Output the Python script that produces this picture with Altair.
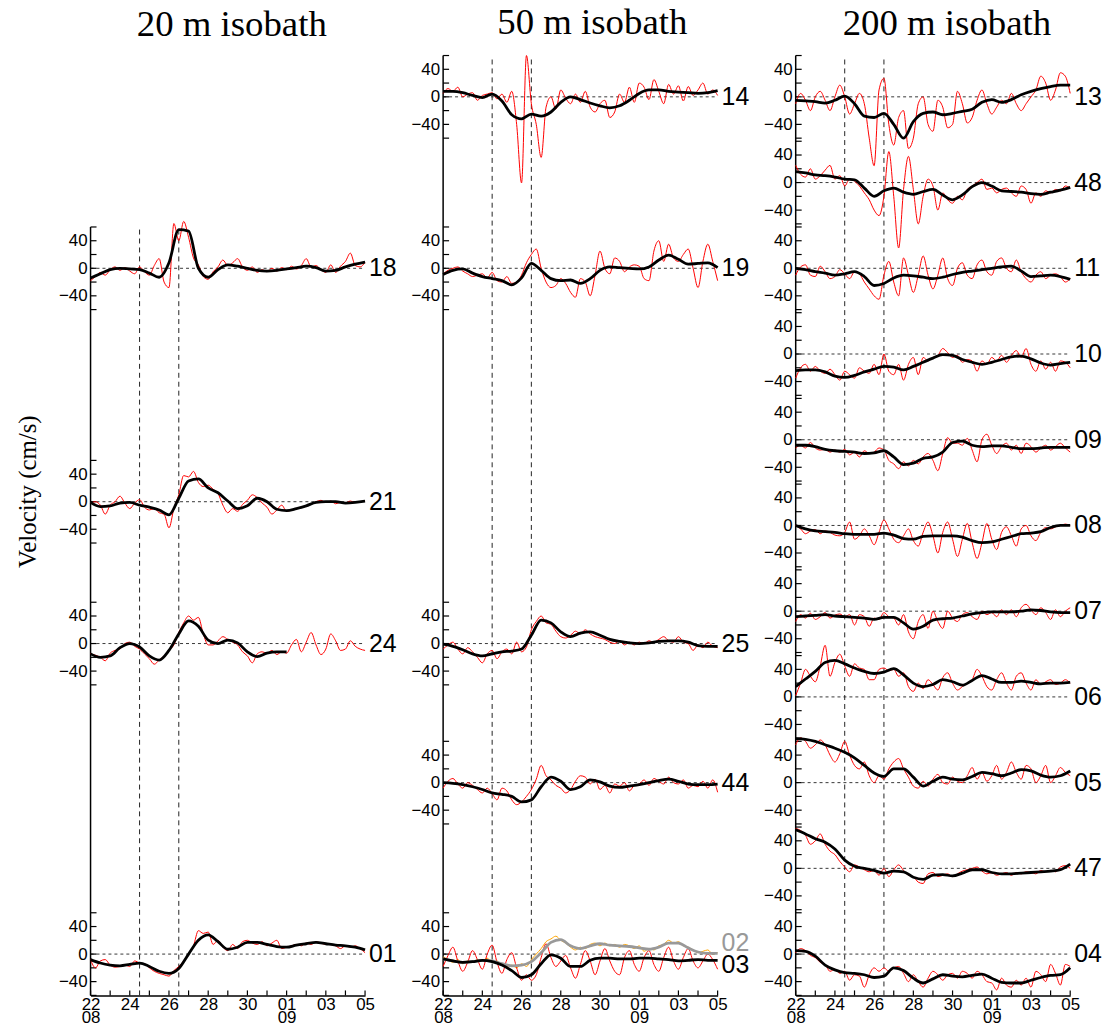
import altair as alt
import pandas as pd

# ---------------- time grids (days after 22 Aug 00:00) ----------------
T_RED = [i / 4 for i in range(57)]
T_BLK = [i / 2 for i in range(29)]
T_BLK24 = [i / 2 for i in range(21)]

# ---------------- 20 m isobath ----------------
R18 = [-18, -12, -6, -10, -2, 2, -3, 1,
       -4, -8, 2, -5, -10, 4, 14, -20,
       -28, 65, 40, 68, 45, 15, 5, -12,
       -16, -5, 2, 12, 4, 8, 14, 2,
       -3, 2, -6, -2, -5, 0, -4, 1,
       -2, 3, -1, 4, 14, 2, 4, -2,
       -6, 5, -6, 3, 10, 22, 4, 2,
       9]
B18 = [-14, -8, -2, 0,
       -1, -2, -7, -13,
       8, 56, 54, 0,
       -13, -2, 5, 3,
       0, -3, -4, -3,
       -1, 1, 3, 1,
       -4, -3, 2, 6,
       9]
R21 = [-2, 0, -5, -18, -5, 0, 8, -2,
       -10, -2, 3, -8, -12, -10, -16, -18,
       -38, -10, 10, 38, 36, 44, 28, 22,
       24, 18, 12, -5, -16, -10, -14, -4,
       2, 10, 6, -2, -8, -18, -12, -5,
       -14, -12, -10, -8, -6, -3, 0, 2,
       -1, 1, -3, -1, -2, 1, -1, 0,
       1]
B21 = [-1, -7, -6, -2,
       -1, -5, -8, -12,
       -19, 5, 30, 33,
       20, 13, 1, -10,
       -6, 5, 0, -11,
       -13, -10, -6, -1,
       0, 0, -2, -1,
       1]
R24 = [-15, -17, -20, -25, -14, -10, -8, 0,
       2, -4, -8, -15, -22, -30, -24, -18,
       -10, -2, 16, 30, 40, 34, 38, 14,
       -2, -2, 4, 10, 6, 2, -2, -12,
       -18, -28, -15, -12, -14, -10, -16, -12,
       -14, -2, 6, -12, 2, 16, -2, -16,
       -8, 14, 4, -10, -8, 4, -4, -8,
       -10]
B24 = [-15, -20, -18, -6,
       0, -5, -18, -24,
       -10, 14, 33, 25,
       5, 0, 5, 1,
       -12, -19, -14, -12,
       -12]
R01 = [-8, -20, -10, -8, -16, -19, -18, -16,
       -18, -10, -13, -14, -20, -25, -28, -30,
       -32, -24, -18, -10, 0, 12, 34, 30,
       32, 14, 20, 10, 5, 14, 8, 18,
       20, 16, 14, 18, 12, 16, 20, 8,
       10, 12, 14, 12, 16, 14, 18, 16,
       14, 14, 12, 8, 12, 10, 12, 8,
       2]
B01 = [-8, -13, -16, -17,
       -15, -13, -18, -25,
       -28, -21, 0, 20,
       28, 18, 7, 10,
       17, 17, 14, 11,
       10, 13, 15, 17,
       15, 13, 12, 10,
       6]

# ---------------- 50 m isobath ----------------
R14 = [5, 12, 8, 14, 0, 4, 6, -5,
       2, 4, 6, -3, 4, -8, 8, -40,
       -125, 60, -10, -40, -88, -15, 0, -18,
       10, -2, -10, 4, -8, 8, -15, -22,
       -10, -5, -30, -22, 4, -8, 14, -8,
       20, 14, -4, 25, 8, -10, 18, 4,
       16, -6, 15, 2, 10, 20, 4, 10,
       2]
B14 = [8, 8, 6, 2,
       -1, 4, -6, -26,
       -32, -25, -28, -22,
       -8, 0, -4, -9,
       -13, -16, -13, -5,
       5, 10, 10, 8,
       7, 6, 5, 6,
       9]
R19 = [-8, -3, 0, 2, -4, -8, -12, -10,
       -8, -14, -6, -18, -20, -12, -22, -20,
       -10, 8, 20, 28, 0, -20, -28, -25,
       -15, -22, -35, -42, -15, -20, -40, -10,
       25, 0, -8, 15, 10, -5, 2, 5,
       3, -15, -18, 25, 40, 10, 35, 15,
       10, 20, 28, 0, -28, 10, 35, 10,
       -18]
B19 = [-9, -3, -1, -7,
       -12, -15, -18, -24,
       -14, 7, -3, -15,
       -18, -17, -22, -15,
       -3, 2, 1, 0,
       -1, 2, 12, 19,
       13, 6, 7, 8,
       1]
R25 = [-8, -2, 2, -8, -15, -6, -12, -20,
       -28, -15, -10, -22, -12, -8, -15, 2,
       -12, -5, 20, 32, 40, 30, 28, 18,
       10, 8, 12, 18, 14, 20, 14, 10,
       8, 6, 2, 0, 4, -2, 2, -2,
       2, 0, 4, 2, 6, 10, 4, 2,
       10, 2, 0, -10, -2, -6, 2, -4,
       -6]
B25 = [-1, -4, -9, -15,
       -18, -15, -12, -11,
       -8, 12, 34, 30,
       17, 10, 15, 17,
       12, 6, 3, 1,
       0, 1, 3, 4,
       4, 2, -3, -4,
       -4]
R44 = [-8, 2, 6, -2, -8, 0, -4, -10,
       -15, -8, -16, -25, -8, -12, -25, -32,
       -28, -20, -10, 5, 25, 10, 4, -4,
       -8, -15, -10, 2, 10, 8, -2, 5,
       -10, -4, -15, -2, -5, 0, -12, -4,
       -2, 4, -4, 6, 2, -2, 8, 0,
       -2, 4, -8, -4, -6, 2, -8, 4,
       -14]
B44 = [0, -1, -3, -6,
       -10, -15, -17, -20,
       -28, -25, -6, 8,
       2, -10, -6, 4,
       1, -5, -7, -5,
       -3, 0, 3, 5,
       2, -2, -3, -3,
       -2]
O02 = [-4, -8, -12, -8, -14, -10, -12, -8,
       -10, -6, -12, -10, -16, -18, -16, -20,
       -14, -18, -8, 0, 8, 18, 22, 26,
       20, 16, 10, 6, 10, 8, 14, 16,
       12, 16, 12, 14, 10, 14, 12, 8,
       12, 4, 8, 6, 12, 14, 20, 16,
       18, 12, 10, 6, 2, 4, 6, 0,
       2]
G02 = [-7, -10, -12, -11,
       -9, -10, -14, -17,
       -16, -11, 2, 17,
       21, 12, 8, 12,
       15, 13, 12, 11,
       9, 7, 10, 16,
       16, 9, 3, 1,
       1]
R03 = [-18, -2, 10, -10, -25, -12, 5, -8,
       -22, 0, 13, -12, -28, -8, 2, -20,
       -38, -30, -38, -30, -5, 15, -5, -18,
       -10, -2, -20, -35, -15, 5, -10, -30,
       -10, 8, -10, -25, -30, -5, 5, -15,
       -25, -5, 5, -15, -25, -5, 10, -10,
       -22, -5, 8, -10, -20, -10, 0, -8,
       -22]
B03 = [-7, -10, -12, -11,
       -9, -11, -16, -24,
       -34, -30, -14, -1,
       -6, -18, -18, -9,
       -6, -6, -7, -7,
       -6, -6, -7, -8,
       -10, -9, -8, -9,
       -9]

# ---------------- 200 m isobath ----------------
R13 = [-10, 5, -5, -20, 0, 8, -5, -20,
       0, 17, 0, -25, -10, 5, -10, -60,
       -100, 10, 27, -40, -70, -30, -20, -75,
       -60, -10, 0, -40, -50, -5, -15, -45,
       -40, 8, -10, -38, -30, -5, 10, -10,
       -25, -15, -5, -10, 5, -10, -20, -10,
       0, 10, 30, 20, -5, 10, 35, 30,
       5]
B13 = [-5, -6, -7, -9,
       -5, 1, -10, -28,
       -30, -24, -40, -60,
       -36, -24, -22, -26,
       -24, -21, -18, -8,
       -4, -8, -4, 3,
       8, 12, 15, 17,
       17]
R48 = [25, 12, 8, 20, 5, 10, 18, 25,
       5, 10, -5, 5, 2, -5, -15, -25,
       -40, -48, -20, 45, -20, -95, -10, 38,
       -10, -60, -20, 5, -5, -40, -15, -25,
       -30, -20, -25, -10, -5, 0, 5, -10,
       -8, -15, -10, -8, -15, -20, -5, -10,
       -30, -15, -20, -12, -15, -10, -12, -5,
       -8]
B48 = [16, 14, 11, 10,
       8, 5, 4, -8,
       -20, -12, -8, -14,
       -17, -13, -10, -18,
       -25, -18, -6, 0,
       -5, -12, -13, -14,
       -16, -17, -14, -11,
       -7]
R11 = [-10, 2, 5, -10, -12, 3, -5, -15,
       -12, -2, -8, -15, -5, -8, -20, -30,
       -40, -45, -10, 10, -20, -40, 15, -10,
       -35, -10, 18, -10, -30, -10, 15, -15,
       -25, 0, 8, -10, -15, 5, 12, -5,
       -10, 10, 15, 0, -5, 12, -5, -15,
       -20, -10, -5, -15, -10, -8, -12, -20,
       -15]
B11 = [0, -2, -5, -7,
       -10, -8, -5, -12,
       -25, -22, -14, -10,
       -11, -13, -15, -13,
       -9, -6, -4, -2,
       0, 2, 3, -4,
       -12, -11, -10, -12,
       -16]
R10 = [-35, -20, -15, -25, -18, -25, -28, -22,
       -30, -38, -25, -30, -35, -20, -25, -28,
       -15, -30, 0, -25, -30, -15, -38, -15,
       -5, -30, -5, -10, -5, -2, 8, 2,
       -5, -2, -12, -8, -10, -25, -10, -15,
       -5, -10, -2, -12, -2, 5, -5, 8,
       -15, -25, -10, -22, -12, -25, -10, -12,
       -20]
B10 = [-24, -23, -23, -26,
       -32, -34, -31, -26,
       -22, -18, -19, -23,
       -18, -12, -6, -1,
       -2, -8, -12, -15,
       -12, -8, -4, -3,
       -7, -13, -16, -14,
       -12]
R09 = [-12, -8, -12, -4, -12, -15, -14, -18,
       -15, -18, -14, -22, -18, -25, -16, -20,
       -18, -12, -15, -30, -35, -42, -32, -38,
       -30, -35, -25, -20, -30, -45, -20, 3,
       -5, -5, -8, 2, -15, -32, 0, 8,
       -8, -20, -10, -5, -15, -8, -20, -5,
       -10, -18, -12, -8, -15, -10, -5, -12,
       -18]
B09 = [-8, -8, -10, -14,
       -16, -17, -18, -20,
       -19, -16, -25, -36,
       -34, -27, -25, -18,
       -4, -2, -8, -10,
       -9, -9, -11, -13,
       -13, -12, -11, -11,
       -11]
R08 = [0, -5, -12, -8, -6, -12, -8, -10,
       -14, -15, -10, 5, -20, -15, -5, -15,
       -28, -10, 8, -5, -20, -25, -15, -5,
       -22, -30, -10, 5, -15, -40, -10, 5,
       -20, -45, -20, 3, -25, -48, -25, 3,
       -20, -35, -10, -2, -15, -30, -5, 0,
       -15, -22, -10, -3, -5, -2, 0, 2,
       0]
B08 = [0, -5, -8, -9,
       -10, -12, -13, -13,
       -13, -11, -14, -19,
       -20, -16, -15, -15,
       -15, -17, -22, -25,
       -24, -20, -16, -12,
       -11, -9, -3, 0,
       0]
R07 = [-15, -5, -10, -3, -12, -8, -2, -10,
       -6, -4, -8, -5, -20, -5, -8, -22,
       -10, -12, -2, -8, -10, -20, -5, -30,
       -40, -15, -5, -25, 0, -15, -25, 0,
       -10, -15, -5, -2, -8, -12, 0, -5,
       -2, -8, 2, -5, 2, -8, 5, 10,
       2, -5, 5, -2, -12, 2, -8, 0,
       5]
B07 = [-8, -7, -6, -5,
       -7, -8, -9, -10,
       -12, -9, -9, -17,
       -26, -22, -13, -11,
       -10, -7, -4, -2,
       -1, -1, -1, 0,
       2, 1, -1, -2,
       -2]
R06 = [2, 20, 40, 30, 22, 45, 75, 30,
       50, 62, 45, 30, 48, 42, 40, 25,
       25, 40, 42, 38, 40, 30, 35, 15,
       8, 20, 12, 25, 18, 10, 28, 35,
       20, 10, 15, 20, 25, 40, 30, 15,
       10, 25, 35, 20, 10, 30, 35, 20,
       10, 25, 18, 22, 25, 18, 20, 25,
       20]
B06 = [15, 26, 37, 50,
       53, 48, 42, 37,
       34, 36, 41, 32,
       20, 15, 18, 25,
       22, 17, 24, 31,
       26, 21, 21, 23,
       21, 19, 20, 20,
       21]
R05 = [55, 65, 60, 50, 55, 62, 55, 40,
       30, 42, 60, 40, 25, 20, 30, 10,
       0, 10, 5, 20, 30, 35, 20, 8,
       -5, -8, 2, -5, 5, 12, 0, -2,
       8, 2, 0, 10, 22, 5, 15, 2,
       10, 25, 5, 15, 30, 15, 5, 25,
       20, 0, 10, 25, 0, 10, 22, 15,
       10]
B05 = [64, 63, 60, 55,
       50, 44, 36, 25,
       14, 9, 20, 20,
       8, -5, 2, 8,
       5, 4, 9, 15,
       13, 10, 14, 19,
       17, 11, 8, 10,
       17]
R47 = [58, 55, 48, 35, 40, 50, 35, 25,
       20, 10, 2, -5, 5, 2, -2, -5,
       -3, -10, 0, -12, -2, 5, -3, -10,
       -12, -20, -22, -8, -6, -12, -10, -8,
       -12, -8, -4, -2, 0, 2, -4, -8,
       -6, -10, -8, -6, -10, -6, -8, -5,
       -6, -8, -3, -5, -3, -5, 2, 4,
       0]
B47 = [56, 50, 43, 38,
       28, 12, 3, 0,
       -3, -7, -4, -5,
       -13, -16, -10, -9,
       -11, -7, -2, -2,
       -6, -8, -8, -7,
       -6, -5, -4, -2,
       6]
R04 = [2, 8, 5, -2, -5, -12, -15, -25,
       -22, -28, -25, -38, -30, -32, -48, -30,
       -20, -25, -20, -25, -20, -18, -28, -40,
       -30, -40, -48, -35, -25, -30, -38, -30,
       -28, -35, -25, -28, -35, -25, -30, -40,
       -42, -52, -35, -45, -48, -38, -45, -35,
       -48, -25, -30, -40, -15, -28, -45, -15,
       -18]
B04 = [5, 4, -3, -16,
       -23, -27, -28, -30,
       -34, -32, -20, -24,
       -35, -42, -36, -30,
       -32, -33, -31, -29,
       -35, -41, -42, -42,
       -38, -34, -31, -30,
       -20]

# ---------------- panel layout (stacking offsets, cm/s units) ----------------
COL1_NAMES = ["18", "21", "24", "01"]
COL1_ZERO = [1056, 717, 511, 60]
COL2_NAMES = ["14", "19", "25", "44", "03"]
COL2_ZERO = [1305, 1056, 511, 309, 60]
COL3_NAMES = ["13", "48", "11", "10", "09", "08", "07", "06", "05", "47", "04"]
COL3_ZERO = [1305, 1180.5, 1056, 931.5, 807, 682.5, 558, 433.5, 309, 184.5, 60]

TITLES = ["20 m isobath", "50 m isobath", "200 m isobath"]
Y_TITLE = "Velocity (cm/s)"
X_TICK_DAYS = [0, 2, 4, 6, 8, 10, 12, 14]
X_TICK_LABELS = [["22", "08"], ["24"], ["26"], ["28"], ["30"], ["01", "09"], ["03"], ["05"]]
X_MINOR_DAYS = list(range(15))
EVENT_DAYS = [2.5, 4.5]
Y_LABEL_LEVELS = [-40, 0, 40]
Y_TICK_LEVELS = [-60, -40, -20, 0, 20, 40, 60]
DAY_START, DAY_END = 0, 14

RED = {"18": R18, "21": R21, "24": R24, "01": R01,
       "14": R14, "19": R19, "25": R25, "44": R44, "03": R03,
       "13": R13, "48": R48, "11": R11, "10": R10, "09": R09, "08": R08,
       "07": R07, "06": R06, "05": R05, "47": R47, "04": R04}
BLK = {"18": B18, "21": B21, "01": B01,
       "14": B14, "19": B19, "25": B25, "44": B44, "03": B03,
       "13": B13, "48": B48, "11": B11, "10": B10, "09": B09, "08": B08,
       "07": B07, "06": B06, "05": B05, "47": B47, "04": B04}

W, H = 276, 945
YMAX = 1365
SANS = "Liberation Sans"
SERIF = "Liberation Serif"
MINUS = "\u2212"

xscale = alt.Scale(domain=[DAY_START, DAY_END], nice=False, zero=False)
yscale = alt.Scale(domain=[0, YMAX], nice=False, zero=False)

x_expr = ("[" + ",".join("[" + ",".join("'%s'" % s for s in lab) + "]" for lab in X_TICK_LABELS)
          + "][indexof([" + ",".join(str(d) for d in X_TICK_DAYS) + "], datum.value)]")
xaxis = alt.Axis(values=X_TICK_DAYS, labelExpr=x_expr, domain=True, domainColor="black",
                 domainWidth=1.5, ticks=False, grid=False, labelPadding=1, labelFontSize=17,
                 labelFont=SANS, labelColor="black", labelLineHeight=13, labelFlush=False,
                 labelOverlap=False, labelBaseline="top", title=None)


def make_yaxis(zeros, with_title):
    vals = [float(z + k) for z in zeros for k in Y_LABEL_LEVELS]
    labs = [(MINUS + str(-k)) if k < 0 else str(k) for z in zeros for k in Y_LABEL_LEVELS]
    expr = ("[" + ",".join("'%s'" % l for l in labs) + "][indexof(["
            + ",".join(repr(v) for v in vals) + "], datum.value)]")
    kw = dict(values=vals, labelExpr=expr, domain=False, ticks=False, grid=False,
              labelPadding=3.5, labelFontSize=17, labelFont=SANS, labelColor="black",
              labelOverlap=False, labelFlush=False)
    if with_title:
        kw.update(title=Y_TITLE, titleFont=SERIF, titleFontSize=25, titleFontWeight="normal",
                  titleColor="black", titleAngle=270, titleX=-55, titleY=438,
                  titleAlign="center", titleBaseline="alphabetic")
    else:
        kw.update(title=None)
    return alt.Axis(**kw)


def series_df(names, zeros, src, grid):
    rows = []
    for n, z in zip(names, zeros):
        if n in src:
            for d, v in zip(grid, src[n]):
                rows.append({"name": n, "day": d, "y": z + v})
    return pd.DataFrame(rows)


def make_column(names, zeros, top, title, title_dx, with_title, extra_thin=None,
                extra_thick=None, special_labels=None):
    yaxis = make_yaxis(zeros, with_title)

    def X(field):
        return alt.X(field, type="quantitative", scale=xscale, axis=xaxis)

    def Y(field):
        return alt.Y(field, type="quantitative", scale=yscale, axis=yaxis)

    df_zero = pd.DataFrame({"name": names, "zero": zeros,
                            "d0": [DAY_START] * len(names), "d1": [DAY_END] * len(names)})
    df_ev = pd.DataFrame({"day": EVENT_DAYS, "bot": [0] * len(EVENT_DAYS),
                          "top": [top] * len(EVENT_DAYS)})
    df_top = pd.DataFrame({"bot": [0], "top": [top]})
    df_yt = pd.DataFrame({"v": [z + k for z in zeros for k in Y_TICK_LEVELS]})
    df_xt = pd.DataFrame({"day": X_MINOR_DAYS})

    layers = []
    layers.append(alt.Chart(df_zero).mark_rule(color="#222222", strokeWidth=0.9,
                                               strokeDash=[3, 3]).encode(
        x=X("d0"), x2="d1:Q", y=Y("zero")))
    layers.append(alt.Chart(df_ev).mark_rule(color="#222222", strokeWidth=1,
                                             strokeDash=[5, 4]).encode(
        x=X("day"), y=Y("bot"), y2="top:Q"))
    layers.append(alt.Chart(df_top).mark_rule(color="black", strokeWidth=1.5).encode(
        x=alt.value(0), y=Y("bot"), y2="top:Q"))
    layers.append(alt.Chart(df_yt).mark_rule(color="black", strokeWidth=1.2).encode(
        x=alt.value(0), x2=alt.value(6), y=Y("v")))
    layers.append(alt.Chart(df_xt).mark_rule(color="black", strokeWidth=1.2).encode(
        x=X("day"), y=alt.value(H), y2=alt.value(H - 5)))

    if extra_thin is not None:
        df, col = extra_thin
        layers.append(alt.Chart(df).mark_line(color=col, strokeWidth=1, interpolate="monotone").encode(
            x=X("day"), y=Y("y"), detail="name:N"))
    df_red = series_df(names, zeros, RED, T_RED)
    layers.append(alt.Chart(df_red).mark_line(color="#ff0000", strokeWidth=1,
                                              interpolate="monotone").encode(
        x=X("day"), y=Y("y"), detail="name:N"))
    if extra_thick is not None:
        df, col = extra_thick
        layers.append(alt.Chart(df).mark_line(color=col, strokeWidth=2.8, interpolate="monotone").encode(
            x=X("day"), y=Y("y"), detail="name:N"))
    df_blk = series_df(names, zeros, BLK, T_BLK)
    if "24" in names:
        df_blk = pd.concat([df_blk, series_df(["24"], [zeros[names.index("24")]], {"24": B24}, T_BLK24)])
    layers.append(alt.Chart(df_blk).mark_line(color="black", strokeWidth=2.8,
                                              interpolate="monotone").encode(
        x=X("day"), y=Y("y"), detail="name:N"))

    lab_names = [n for n in names if not special_labels or n not in special_labels]
    df_lab = df_zero[df_zero["name"].isin(lab_names)]
    layers.append(alt.Chart(df_lab).mark_text(align="left", baseline="middle", dx=4, fontSize=25,
                                              font=SANS, color="black").encode(
        x=X("d1"), y=Y("zero"), text="name:N"))
    if special_labels:
        for n, (zero, dy, col) in special_labels.items():
            d = pd.DataFrame({"name": [n], "zero": [zero], "d1": [DAY_END]})
            layers.append(alt.Chart(d).mark_text(align="left", baseline="middle", dx=4, dy=dy,
                                                 fontSize=25, font=SANS, color=col).encode(
                x=X("d1"), y=Y("zero"), text="name:N"))

    return alt.layer(*layers).properties(
        width=W, height=H,
        title=alt.TitleParams(title, font=SERIF, fontSize=37, fontWeight="normal", color="black",
                              anchor="middle", offset=11.5, dx=title_dx))


c1 = make_column(COL1_NAMES, COL1_ZERO, 1116, TITLES[0], 4, True)

df_o02 = pd.DataFrame({"name": "02", "day": T_RED, "y": [60 + v for v in O02]})
df_g02 = pd.DataFrame({"name": "02", "day": T_BLK, "y": [60 + v for v in G02]})
c2 = make_column(COL2_NAMES, COL2_ZERO, YMAX, TITLES[1], 12, False,
                 extra_thin=(df_o02, "#ffa500"), extra_thick=(df_g02, "#999999"),
                 special_labels={"02": (60, -11, "#999999"), "03": (60, 11, "black")})
c3 = make_column(COL3_NAMES, COL3_ZERO, YMAX, TITLES[2], 14, False)

chart = alt.hconcat(c1, c2, c3, spacing=78.5, bounds="flush").properties(
    padding={"left": 8, "top": -7, "right": 5, "bottom": 0}
).configure_view(stroke=None)

chart.save("out.html", embed_options={"renderer": "svg", "actions": False})
